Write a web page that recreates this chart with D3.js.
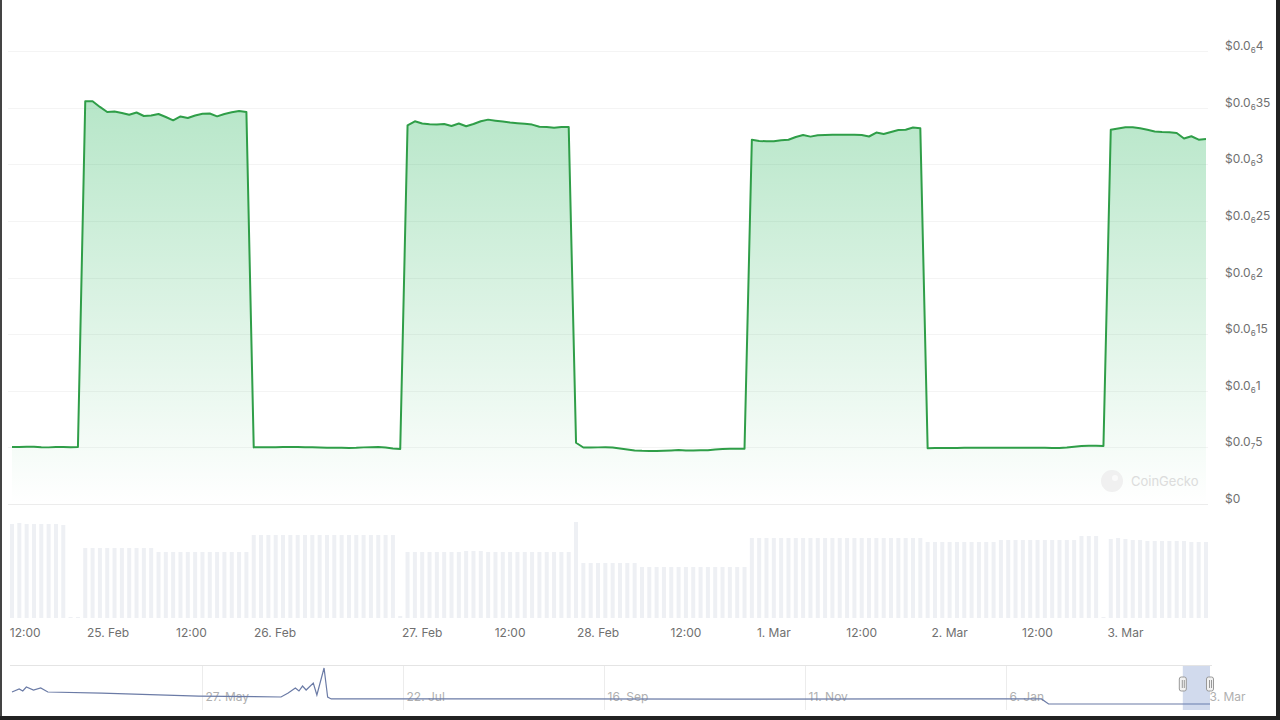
<!DOCTYPE html>
<html><head><meta charset="utf-8">
<script src="https://cdn.jsdelivr.net/npm/d3@7"></script>
<style>
html,body{margin:0;padding:0;background:#fff;}
svg{display:block;font-family:Inter,"Liberation Sans",sans-serif;}
</style></head><body>
<svg id="c" width="1280" height="720"></svg>
<script>
// ---------- DATA ----------
// hourly price points, in units of 1e-8 USD
const priceE8 = [
5.03,5.03,5.05,5.06,5.01,5.00,5.03,5.03,5.02,5.03,
35.56,35.56,35.06,34.61,34.66,34.53,34.37,34.57,34.26,34.31,34.44,34.17,33.88,34.22,34.08,34.31,34.46,34.48,34.23,34.44,34.59,34.70,34.61,
5.00,5.01,5.02,5.02,5.03,5.04,5.03,5.02,5.01,4.99,4.97,4.96,4.96,4.95,4.96,5.00,5.02,5.03,4.98,4.90,4.86,
33.44,33.79,33.60,33.53,33.52,33.55,33.38,33.60,33.36,33.55,33.80,33.94,33.85,33.77,33.68,33.62,33.57,33.50,33.31,33.29,33.22,33.29,33.29,
5.41,4.99,4.99,5.00,5.01,4.98,4.90,4.81,4.73,4.70,4.69,4.68,4.70,4.73,4.77,4.72,4.73,4.74,4.75,4.81,4.86,4.88,4.88,4.88,
32.17,32.05,32.03,32.03,32.12,32.16,32.41,32.58,32.44,32.56,32.58,32.60,32.61,32.61,32.61,32.58,32.45,32.80,32.67,32.85,33.02,33.05,33.25,33.17,
4.93,4.94,4.94,4.95,4.95,4.96,4.96,4.96,4.97,4.97,4.97,4.96,4.96,4.96,4.96,4.96,4.96,4.95,4.95,4.98,5.06,5.12,5.15,5.14,5.13,
33.05,33.16,33.27,33.26,33.17,33.04,32.89,32.85,32.83,32.76,32.27,32.47,32.17,32.23
];
// hourly volume (relative units)
const volume = [
94,95,94,94,94,94,94,93,1,1,
70,70,70,70,70,70,70,70,70,70,66,66,66,66,66,66,66,66,66,66,66,66,66,
83,83,83,83,83,83,83,83,83,83,83,83,83,83,83,83,83,83,83,83,2,
66,66,66,66,66,66,66,66,67,67,67,66,66,66,66,66,66,66,66,66,66,66,66,
96,55,55,55,55,55,55,55,55,51,51,51,51,51,51,51,51,51,51,51,51,51,51,51,
80,80,80,80,80,80,80,80,80,80,80,80,80,80,80,80,80,80,80,80,80,80,80,80,
76,76,76,76,76,76,76,76,76,76,78,78,78,78,78,78,78,78,78,78,78,82,82,82,1,
79,80,79,78,78,77,77,77,77,77,77,76,76,76
];
// x-axis ticks (position given as fractional point index)
const xTickIndex = [1.8, 13.1, 24.5, 35.9, 56, 68, 80, 92, 104, 116, 128, 140, 152];
const xTickLabels = ["12:00","25. Feb","12:00","26. Feb","27. Feb","12:00","28. Feb","12:00","1. Mar","12:00","2. Mar","12:00","3. Mar"];
// y-axis ticks (USD)
const yTicks = [0, 5e-8, 1e-7, 1.5e-7, 2e-7, 2.5e-7, 3e-7, 3.5e-7, 4e-7];

// navigator: day offsets from 4 Apr 2024 and price (USD)
const navDay = [0,2,3,4,6,8,10,25,52,75,77,79,80,81,82,84,85,87,88,89,150,200,250,287,289,334];
const navVal = [1.80e-6,2.20e-6,1.93e-6,2.46e-6,2.06e-6,2.33e-6,1.80e-6,1.66e-6,1.26e-6,1.13e-6,1.66e-6,2.33e-6,1.93e-6,2.59e-6,2.06e-6,2.99e-6,1.40e-6,4.99e-6,1.13e-6,0.87e-6,0.87e-6,0.85e-6,0.87e-6,0.87e-6,0.20e-6,0.20e-6];
const navTickDates = ["2024-05-27","2024-07-22","2024-09-16","2024-11-11","2025-01-06","2025-03-03"];

// ---------- CHART ----------
const svg = d3.select("#c");
const N = priceE8.length;
const x = d3.scaleLinear().domain([0, N-1]).range([12, 1206]);
const y = d3.scaleLinear().domain([0, 4e-7]).range([504, 51]);
const vy = d3.scaleLinear().domain([0, 100]).range([618, 518]);

const defs = svg.append("defs");
const grad = defs.append("linearGradient").attr("id","g").attr("gradientUnits","userSpaceOnUse")
  .attr("x1",0).attr("x2",0).attr("y1",y(4e-7)).attr("y2",y(0));
grad.append("stop").attr("offset","0%").attr("stop-color","rgb(0,168,62)").attr("stop-opacity",0.32);
grad.append("stop").attr("offset","100%").attr("stop-color","rgb(0,168,62)").attr("stop-opacity",0.0);

// grid
svg.append("g").selectAll("line").data(yTicks).join("line")
  .attr("x1",8).attr("x2",1208).attr("y1",d=>Math.round(y(d))+0.5).attr("y2",d=>Math.round(y(d))+0.5)
  .attr("stroke",d=>d===0?"#ececec":"#f4f4f4").attr("stroke-width",1);

// y labels
function fmt(v){
  if(v===0) return {pre:"$0",sub:"",rest:""};
  const s = v.toFixed(12).replace(/0+$/,"");
  const frac = s.split(".")[1];
  const z = frac.match(/^0*/)[0].length;
  return {pre:"$0.0",sub:String(z),rest:frac.slice(z)};
}
const yl = svg.append("g").attr("font-size",12).attr("fill","#707070");
yTicks.forEach(v=>{
  const f = fmt(v);
  const t = yl.append("text").attr("x",1225).attr("y",y(v)-1);
  t.append("tspan").text(f.pre);
  if(f.sub){
    t.append("tspan").attr("font-size",8).attr("dy",3).text(f.sub);
    t.append("tspan").attr("dy",-3).text(f.rest);
  }
});

// volume bars
svg.append("g").selectAll("rect").data(volume).join("rect")
  .attr("x",(d,i)=>x(i)-2).attr("width",4)
  .attr("y",d=>vy(d)).attr("height",d=>vy(0)-vy(d))
  .attr("fill","#eef0f4");

// area + line
const pts = priceE8.map((v,i)=>[i, v*1e-8]);
svg.append("path").datum(pts)
  .attr("d", d3.area().x(d=>x(d[0])).y0(y(0)).y1(d=>y(d[1])))
  .attr("fill","url(#g)");
svg.append("path").datum(pts)
  .attr("d", d3.line().x(d=>x(d[0])).y(d=>y(d[1])))
  .attr("fill","none").attr("stroke","#2f9e48").attr("stroke-width",2).attr("stroke-linejoin","round");

// x labels
svg.append("g").attr("font-size",12).attr("fill","#707070").attr("text-anchor","middle")
  .selectAll("text").data(xTickIndex).join("text")
  .attr("x",d=>x(d)).attr("y",637).text((d,i)=>xTickLabels[i]);

// watermark
const wm = svg.append("g").attr("opacity",0.9);
wm.append("circle").attr("cx",1112).attr("cy",481).attr("r",11).attr("fill","#efefef");
wm.append("circle").attr("cx",1115).attr("cy",478).attr("r",3).attr("fill","#fafafa");
wm.append("text").attr("x",1131).attr("y",486).attr("font-size",13).attr("fill","#d9d9d9").text("CoinGecko");

// navigator
const navStart = new Date(2024,3,4);
const navDates = navDay.map(d=>d3.timeDay.offset(navStart,d));
const nx = d3.scaleTime().domain([navStart, new Date(2025,2,4)]).range([12,1210]);
const ny = d3.scaleLinear().domain(d3.extent(navVal)).range([704,668]);
const nav = svg.append("g");
nav.append("line").attr("x1",10).attr("x2",1212).attr("y1",665.5).attr("y2",665.5).attr("stroke","#e4e4e4");
const parse = d3.timeParse("%Y-%m-%d");
const tf = d3.timeFormat("%-d. %b");
navTickDates.map(parse).forEach((d,i)=>{
  const px = Math.round(nx(d))+0.5;
  if(i<navTickDates.length-1) nav.append("line").attr("x1",px).attr("x2",px).attr("y1",666).attr("y2",710).attr("stroke","#ececec");
  nav.append("text").attr("x",px+3).attr("y",701).attr("font-size",12).attr("fill","#b0b0b0").text(tf(d));
});
nav.append("path").datum(navVal.map((v,i)=>[navDates[i],v]))
  .attr("d", d3.line().x(d=>nx(d[0])).y(d=>ny(d[1])))
  .attr("fill","none").attr("stroke","#6b7ba6").attr("stroke-width",1.2);
// selection
const selA = nx(new Date(2025,1,24,10)), selB = nx(new Date(2025,2,4));
nav.append("rect").attr("x",selA).attr("y",666).attr("width",selB-selA).attr("height",44).attr("fill","rgba(102,133,194,0.3)");
[selA, selB].forEach(h=>{
  nav.append("rect").attr("x",h-3.5).attr("y",677).attr("width",7).attr("height",14).attr("rx",2)
    .attr("fill","#f2f2f2").attr("stroke","#999");
  nav.append("line").attr("x1",h-0.5).attr("x2",h-0.5).attr("y1",680).attr("y2",688).attr("stroke","#999");
  nav.append("line").attr("x1",h+1.5).attr("x2",h+1.5).attr("y1",680).attr("y2",688).attr("stroke","#999");
});

// frame
svg.append("rect").attr("x",0).attr("y",0).attr("width",2).attr("height",720).attr("fill","#444");
svg.append("rect").attr("x",1276).attr("y",0).attr("width",4).attr("height",720).attr("fill","#222");
svg.append("rect").attr("x",0).attr("y",716).attr("width",1280).attr("height",4).attr("fill","#222");
</script></body></html>
